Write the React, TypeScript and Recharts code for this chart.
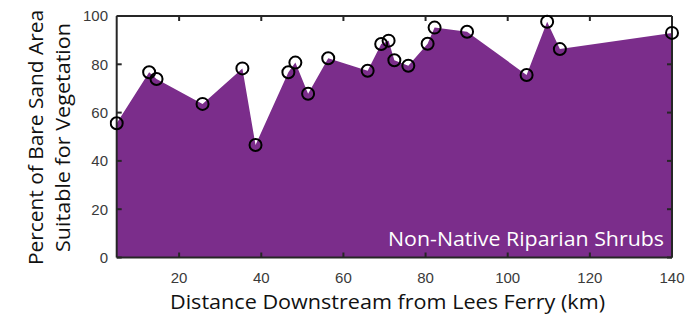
import React from "react";
import { ComposedChart, Area, XAxis, YAxis } from "recharts";

// Distance downstream (km) of each surveyed sandbar site
const distanceKm = [
  4.8, 12.7, 14.5, 25.7, 35.4, 38.6, 46.6, 48.3, 51.4, 56.3, 65.9,
  69.2, 71.0, 72.4, 75.8, 80.5, 82.2, 90.1, 104.6, 109.6, 112.7, 140,
];
// Percent of bare sand area suitable for non-native riparian shrubs
const suitablePct = [
  55.6, 76.7, 73.9, 63.6, 78.3, 46.6, 76.7, 80.7, 67.8, 82.5, 77.3,
  88.4, 89.8, 81.7, 79.4, 88.5, 95.2, 93.5, 75.6, 97.6, 86.3, 93.0,
];
const xTicks = [20, 40, 60, 80, 100, 120, 140];
const yTicks = [0, 20, 40, 60, 80, 100];
const xDomain: [number, number] = [4.8, 140];
const yDomain: [number, number] = [0, 100];

const rows = distanceKm.map((d, i) => ({ d, v: suitablePct[i] }));

const W = 692;
const H = 325;
const FRAME = "rgb(38,38,38)";
const TICK_FONT = "'Liberation Sans', Arial, sans-serif";
const LABEL_FONT = "'Open Sans', 'Noto Sans', sans-serif";

const tickStyle = { fontFamily: TICK_FONT, fontSize: 15, fill: "#3a3a3a" };
const blank = () => "";

export default function App() {
  return (
    <div style={{ position: "absolute", left: 0, top: 0 }}>
      <ComposedChart width={W} height={H} data={rows} margin={{ top: 16, right: 20, bottom: 0, left: 0 }}>
        {/* labelled axes */}
        <XAxis
          xAxisId="main"
          dataKey="d"
          type="number"
          domain={xDomain}
          ticks={xTicks}
          allowDataOverflow
          height={67.5}
          tickSize={0}
          tickMargin={14.5}
          tickLine={false}
          axisLine={false}
          tick={tickStyle}
        />
        <YAxis
          yAxisId="main"
          type="number"
          domain={yDomain}
          ticks={yTicks}
          allowDataOverflow
          width={116.7}
          tickSize={0}
          tickMargin={8.7}
          tickLine={false}
          axisLine={false}
          tick={tickStyle}
        />
        <Area
          xAxisId="main"
          yAxisId="main"
          dataKey="v"
          stroke="none"
          fill="#7b2d8b"
          fillOpacity={1}
          isAnimationActive={false}
          dot={{ r: 6, stroke: "#000", strokeWidth: 2, fill: "none", clipDot: false }}
        />
        {/* transparent series tying the frame axes to the same scales */}
        <Area xAxisId="topBox" yAxisId="rightBox" dataKey="v" fill="none" stroke="none" isAnimationActive={false} />
        <Area xAxisId="bottomBox" yAxisId="leftBox" dataKey="v" fill="none" stroke="none" isAnimationActive={false} />
        {/* frame with inward ticks on all four sides */}
        <XAxis xAxisId="topBox" dataKey="d" type="number" domain={xDomain} ticks={xTicks} allowDataOverflow
          orientation="top" mirror tickFormatter={blank} tickSize={5} stroke={FRAME} strokeWidth={2} />
        <YAxis yAxisId="rightBox" type="number" domain={yDomain} ticks={yTicks} allowDataOverflow
          orientation="right" mirror tickFormatter={blank} tickSize={5} stroke={FRAME} strokeWidth={2} />
        <XAxis xAxisId="bottomBox" dataKey="d" type="number" domain={xDomain} ticks={xTicks} allowDataOverflow
          orientation="bottom" mirror tickFormatter={blank} tickSize={5} stroke={FRAME} strokeWidth={2} />
        <YAxis yAxisId="leftBox" type="number" domain={yDomain} ticks={yTicks} allowDataOverflow
          orientation="left" mirror tickFormatter={blank} tickSize={5} stroke={FRAME} strokeWidth={2} />
      </ComposedChart>
      <svg width={W} height={H} style={{ position: "absolute", left: 0, top: 0, pointerEvents: "none" }}>
        <text x={664} y={246} textAnchor="end" fontFamily={LABEL_FONT} fontSize={20} fill="#ffffff"
          textLength={276} lengthAdjust="spacingAndGlyphs">
          Non-Native Riparian Shrubs
        </text>
        <text x={387.5} y={309} textAnchor="middle" fontFamily={LABEL_FONT} fontSize={20} fill="#111"
          textLength={435} lengthAdjust="spacingAndGlyphs">
          Distance Downstream from Lees Ferry (km)
        </text>
        <g transform="translate(43,137.5) rotate(-90)">
          <text x={0} y={0} textAnchor="middle" fontFamily={LABEL_FONT} fontSize={20} fill="#111"
            textLength={255} lengthAdjust="spacingAndGlyphs">
            Percent of Bare Sand Area
          </text>
        </g>
        <g transform="translate(70,137.5) rotate(-90)">
          <text x={0} y={0} textAnchor="middle" fontFamily={LABEL_FONT} fontSize={20} fill="#111"
            textLength={229} lengthAdjust="spacingAndGlyphs">
            Suitable for Vegetation
          </text>
        </g>
      </svg>
    </div>
  );
}
